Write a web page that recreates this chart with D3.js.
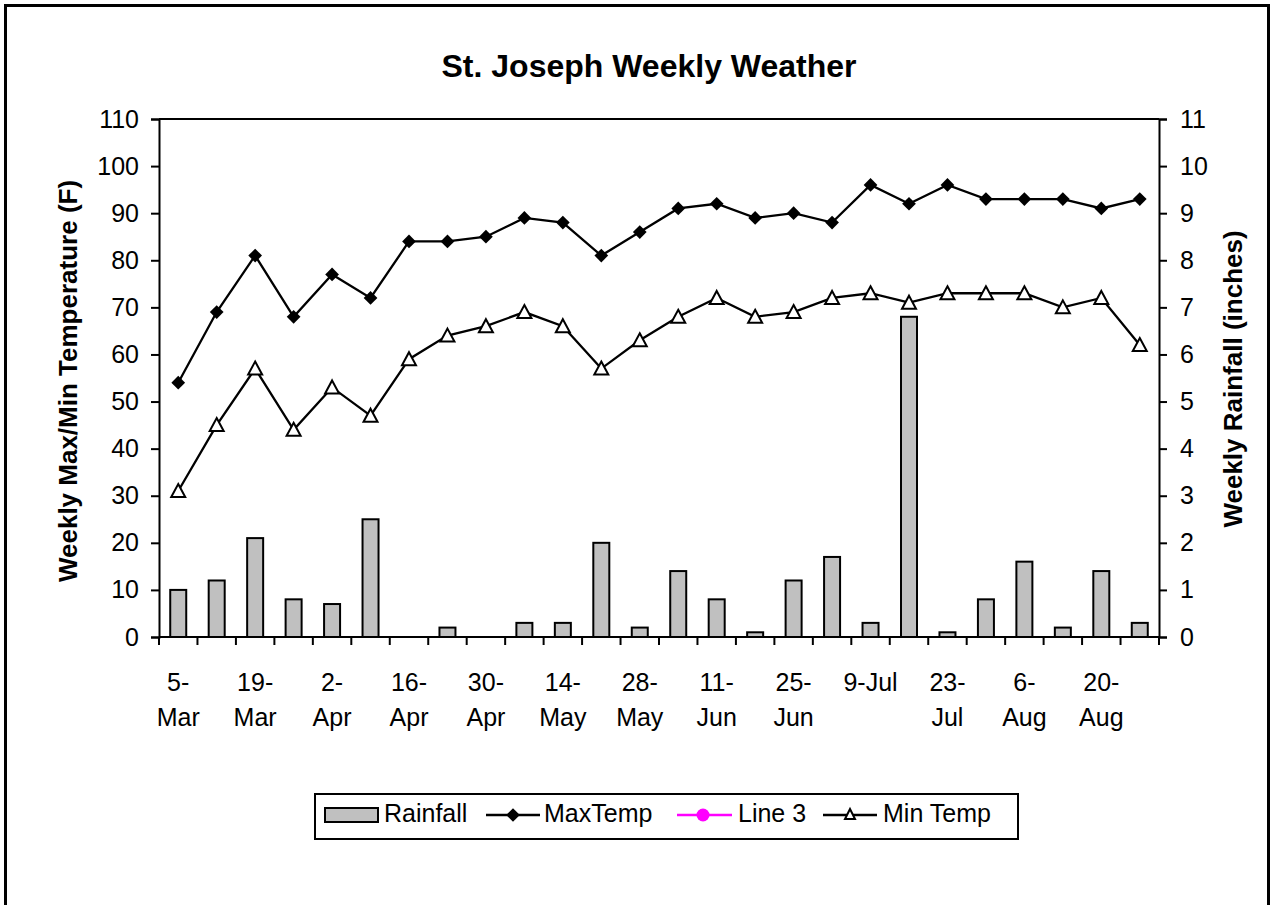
<!DOCTYPE html>
<html><head><meta charset="utf-8">
<script src="https://cdn.jsdelivr.net/npm/d3@7/dist/d3.min.js"></script>
<style>body{margin:0;background:#fff}svg{display:block}text{font-family:"Liberation Sans",Arial,sans-serif}</style>
</head><body>
<svg id="c" width="1271" height="905"></svg>
<script>
const categories = ["5-Mar","12-Mar","19-Mar","26-Mar","2-Apr","9-Apr","16-Apr","23-Apr","30-Apr","7-May","14-May","21-May","28-May","4-Jun","11-Jun","18-Jun","25-Jun","2-Jul","9-Jul","16-Jul","23-Jul","30-Jul","6-Aug","13-Aug","20-Aug","27-Aug"];
const tickLabels = [["5-","Mar"],null,["19-","Mar"],null,["2-","Apr"],null,["16-","Apr"],null,["30-","Apr"],null,["14-","May"],null,["28-","May"],null,["11-","Jun"],null,["25-","Jun"],null,["9-Jul",""],null,["23-","Jul"],null,["6-","Aug"],null,["20-","Aug"],null];
const rainfall = [1.0,1.2,2.1,0.8,0.7,2.5,0,0.2,0,0.3,0.3,2.0,0.2,1.4,0.8,0.1,1.2,1.7,0.3,6.8,0.1,0.8,1.6,0.2,1.4,0.3];
const maxTemp = [54,69,81,68,77,72,84,84,85,89,88,81,86,91,92,89,90,88,96,92,96,93,93,93,91,93];
const minTemp = [31,45,57,44,53,47,59,64,66,69,66,57,63,68,72,68,69,72,73,71,73,73,73,70,72,62];
const leftTicks = d3.range(0,111,10);
const rightTicks = d3.range(0,12,1);

const svg = d3.select("#c");
const L=159, R=1159, T=119, B=637;
const x = d3.scaleBand().domain(categories).range([L,R]);
const yL = d3.scaleLinear().domain([0,110]).range([B,T]);
const yR = d3.scaleLinear().domain([0,11]).range([B,T]);
const FS = 25;

// outer frame
svg.append("rect").attr("x",5.5).attr("y",5.5).attr("width",1263).attr("height",920)
  .attr("fill","none").attr("stroke","#000").attr("stroke-width",3);

// title
svg.append("text").attr("x",649).attr("y",77).attr("text-anchor","middle")
  .attr("font-size",32).attr("font-weight","bold").text("St. Joseph Weekly Weather");

// top border
svg.append("line").attr("x1",L).attr("x2",R).attr("y1",T).attr("y2",T).attr("stroke","#000").attr("stroke-width",2);

// bars
const bw = 16;
svg.append("g").selectAll("rect").data(rainfall).join("rect")
  .attr("x",(d,i)=>x(categories[i])+x.bandwidth()/2-bw/2)
  .attr("y",d=>yR(d)).attr("width",bw).attr("height",d=>B-yR(d))
  .attr("fill","#c0c0c0").attr("stroke","#000").attr("stroke-width",2);

// axes
const gl = svg.append("g").attr("transform",`translate(${L},0)`)
  .call(d3.axisLeft(yL).tickValues(leftTicks).tickSize(8).tickPadding(12));
const gr = svg.append("g").attr("transform",`translate(${R},0)`)
  .call(d3.axisRight(yR).tickValues(rightTicks).tickSize(8).tickPadding(13));
[gl,gr].forEach(g=>{
  g.select(".domain").attr("stroke","#000").attr("stroke-width",2);
  g.selectAll(".tick line").attr("stroke","#000").attr("stroke-width",2);
  g.selectAll(".tick text").attr("font-size",FS).attr("fill","#000").attr("font-family","Liberation Sans, Arial, sans-serif");
});
svg.append("line").attr("x1",L).attr("x2",R).attr("y1",B).attr("y2",B).attr("stroke","#000").attr("stroke-width",2);

// x ticks at boundaries
const bounds = categories.map(c=>x(c)).concat([R]);
svg.append("g").selectAll("line").data(bounds).join("line")
  .attr("x1",d=>d).attr("x2",d=>d).attr("y1",B).attr("y2",B+8)
  .attr("stroke","#000").attr("stroke-width",2);

// x labels
const xl = svg.append("g").attr("font-size",FS).attr("text-anchor","middle");
tickLabels.forEach((t,i)=>{
  if(!t) return;
  const cx = x(categories[i])+x.bandwidth()/2;
  const tx = xl.append("text").attr("x",cx).attr("y",691);
  tx.append("tspan").attr("x",cx).text(t[0]);
  if(t[1]) tx.append("tspan").attr("x",cx).attr("y",726).text(t[1]);
});

// axis titles
svg.append("text").attr("transform","translate(77,381) rotate(-90)").attr("text-anchor","middle")
  .attr("font-size",26).attr("font-weight","bold").text("Weekly Max/Min Temperature (F)");
svg.append("text").attr("transform","translate(1242,379) rotate(-90)").attr("text-anchor","middle")
  .attr("font-size",26).attr("font-weight","bold").text("Weekly Rainfall (inches)");

// lines
const cxf = (d,i)=>x(categories[i])+x.bandwidth()/2;
const line = d3.line().x(cxf).y(d=>yL(d));
svg.append("path").attr("d",line(maxTemp)).attr("fill","none").attr("stroke","#000").attr("stroke-width",2.3);
svg.append("path").attr("d",line(minTemp)).attr("fill","none").attr("stroke","#000").attr("stroke-width",2.3);

const diamond = d3.symbol().type(d3.symbolDiamond2).size(120);
svg.append("g").selectAll("path").data(maxTemp).join("path")
  .attr("d",diamond).attr("transform",(d,i)=>`translate(${cxf(d,i)},${yL(d)})`).attr("fill","#000");
const tri = "M0,-7L7,6L-7,6Z";
svg.append("g").selectAll("path").data(minTemp).join("path")
  .attr("d",tri).attr("transform",(d,i)=>`translate(${cxf(d,i)},${yL(d)})`)
  .attr("fill","#fff").attr("stroke","#000").attr("stroke-width",2);

// legend
const lg = svg.append("g");
lg.append("rect").attr("x",315).attr("y",794).attr("width",703).attr("height",45)
  .attr("fill","#fff").attr("stroke","#000").attr("stroke-width",2);
lg.append("rect").attr("x",325).attr("y",808).attr("width",53).attr("height",14)
  .attr("fill","#c0c0c0").attr("stroke","#000").attr("stroke-width",2);
const ty = 822;
lg.append("text").attr("x",384).attr("y",ty).attr("font-size",FS).text("Rainfall");
lg.append("line").attr("x1",486).attr("x2",540).attr("y1",815).attr("y2",815).attr("stroke","#000").attr("stroke-width",2.3);
lg.append("path").attr("d",diamond).attr("transform","translate(513,815)").attr("fill","#000");
lg.append("text").attr("x",544).attr("y",ty).attr("font-size",FS).text("MaxTemp");
lg.append("line").attr("x1",677).attr("x2",732).attr("y1",815).attr("y2",815).attr("stroke","#ff00ff").attr("stroke-width",2.3);
lg.append("circle").attr("cx",703).attr("cy",815).attr("r",6.5).attr("fill","#ff00ff");
lg.append("text").attr("x",738).attr("y",ty).attr("font-size",FS).text("Line 3");
lg.append("line").attr("x1",823).attr("x2",877).attr("y1",815).attr("y2",815).attr("stroke","#000").attr("stroke-width",2.3);
lg.append("path").attr("d","M0,-5L5,5L-5,5Z").attr("transform","translate(850,814)").attr("fill","#fff").attr("stroke","#000").attr("stroke-width",2);
lg.append("text").attr("x",883).attr("y",ty).attr("font-size",FS).text("Min Temp");
</script>
</body></html>
